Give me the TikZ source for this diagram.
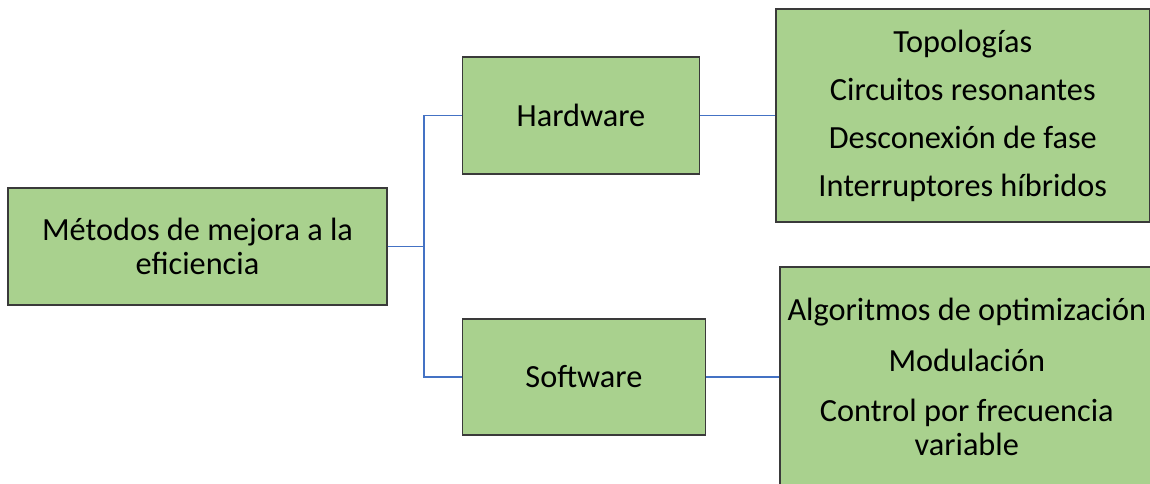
\documentclass[tikz,border=0pt]{standalone}
\usepackage{fontspec}
\setmainfont{Carlito}
\usepackage{xcolor}
\usetikzlibrary{positioning}
\definecolor{boxgreen}{HTML}{A9D18E}
\definecolor{boxline}{HTML}{3A3A3A}
\definecolor{linkblue}{HTML}{4472C4}
\tikzstyle{topic} = [rectangle,
minimum width=379pt,
minimum height=117pt,
text centered,
align=center,
draw=boxline,
line width=1.4pt,
fill=boxgreen,
font=\fontsize{32.3}{34}\selectfont]
\tikzstyle{branch} = [topic,
minimum height=117pt]
\tikzstyle{leaves} = [topic,
minimum width=374pt]
\tikzstyle{link} = [draw=linkblue, line width=1.7pt]

\begin{document}
\begin{tikzpicture}[x=1pt, y=-1pt, node distance=74pt]
\useasboundingbox (0,0) rectangle (1150,484);
\node (root) [topic] at (197.5,246.5) {Métodos de mejora a la\\eficiencia};
\node (hw) [branch, minimum width=237pt, right=of root, yshift=131pt] {Hardware};
\node (sw) [branch, minimum width=243pt, minimum height=116pt, right=of root, yshift=-130.5pt] {Software};
\node (hwlist) [leaves, minimum height=213pt, right=75pt of hw] {Topologías\\[14pt]Circuitos resonantes\\[14pt]Desconexión de fase\\[14pt]Interruptores híbridos};
\node (swlist) [leaves, minimum height=220pt, right=73pt of sw] {Algoritmos de optimización\\[17pt]Modulación\\[16pt]Control por frecuencia\\variable};

\draw [link] (root.east) -- ++(36,0) |- (hw.west);
\draw [link] (root.east) -- ++(36,0) |- (sw.west);
\draw [link] (hw.east) -- (hwlist.west);
\draw [link] (sw.east) -- (swlist.west);
\end{tikzpicture}
\end{document}
